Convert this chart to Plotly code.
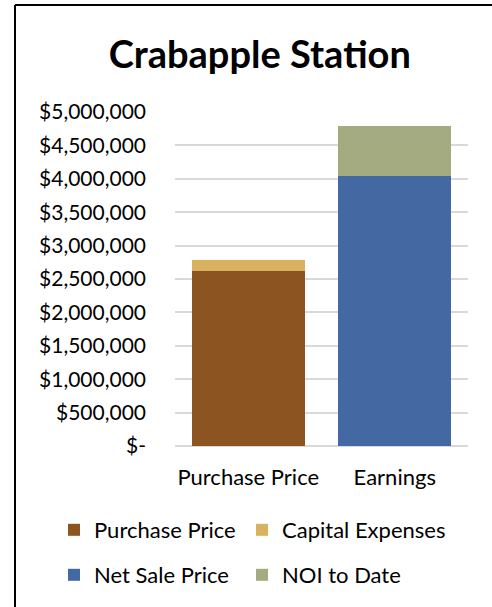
import plotly.graph_objects as go

categories = ["Purchase Price", "Earnings"]
series_names = ["Purchase Price", "Capital Expenses", "Net Sale Price", "NOI to Date"]
series_category = ["Purchase Price", "Purchase Price", "Earnings", "Earnings"]
series_values = [2620000, 164000, 4042000, 748000]
series_colors = ["#8B5420", "#D9B25F", "#4468A2", "#A4AB80"]

tick_values = [0, 500000, 1000000, 1500000, 2000000, 2500000, 3000000, 3500000, 4000000, 4500000, 5000000]
tick_labels = ["$-", "$500,000", "$1,000,000", "$1,500,000", "$2,000,000", "$2,500,000",
               "$3,000,000", "$3,500,000", "$4,000,000", "$4,500,000", "$5,000,000"]

FONT = "Lato"
W, H = 492, 607
ml, mr, mt, mb = 175, 24, 112, 161

pw = W - ml - mr
ph = H - mt - mb

def px_x(x):
    return (x - ml) / pw

def px_y(y):
    return (H - mb - y) / ph

# legend grid: 2 columns x 2 rows (pixel positions of each legend box)
legend_ids = ["legend", "legend2", "legend3", "legend4"]
legend_px = [(54, 509), (242, 509), (54, 554), (242, 554)]

fig = go.Figure()
for name, cat, val, col, lg in zip(series_names, series_category, series_values, series_colors, legend_ids):
    fig.add_trace(go.Bar(name=name, x=[cat], y=[val], marker=dict(color=col, line=dict(width=0)),
                         legend=lg, showlegend=True))

legend_layouts = {}
for lg, (lx, ly) in zip(legend_ids, legend_px):
    legend_layouts[lg] = dict(orientation="v", xref="paper", yref="paper", xanchor="left", yanchor="top",
                              x=px_x(lx), y=px_y(ly), bgcolor="rgba(0,0,0,0)",
                              font=dict(family=FONT, size=22, color="black"),
                              itemclick=False, itemdoubleclick=False)

fig.update_layout(
    width=W, height=H,
    showlegend=True,
    margin=dict(l=ml, r=mr, t=mt, b=mb, autoexpand=False),
    paper_bgcolor="white", plot_bgcolor="white",
    barmode="stack", bargap=0.23,
    font=dict(family=FONT, size=21, color="black"),
    title=dict(text="<b>Crabapple Station</b>", font=dict(family=FONT, size=38, color="black"),
               x=0.528, xanchor="center", y=1 - 55 / H, yanchor="middle", xref="container", yref="container"),
    xaxis=dict(categoryorder="array", categoryarray=categories, showgrid=False, zeroline=False,
               showline=False, ticks="", ticklabelstandoff=16, fixedrange=True,
               tickfont=dict(family=FONT, size=22, color="black")),
    yaxis=dict(range=[0, 5000000], tickvals=tick_values, ticktext=tick_labels, showgrid=True,
               gridcolor="#D9D9D9", gridwidth=1.5, zeroline=True, zerolinecolor="#D9D9D9", zerolinewidth=2,
               showline=False, ticks="", ticklabelstandoff=28, fixedrange=True),
    shapes=[
        dict(type="line", xref="paper", yref="paper", x0=px_x(15), x1=px_x(15),
             y0=px_y(H + 20), y1=px_y(5), line=dict(color="black", width=2), layer="above"),
        dict(type="line", xref="paper", yref="paper", x0=px_x(15), x1=px_x(W + 20),
             y0=px_y(5), y1=px_y(5), line=dict(color="black", width=2), layer="above"),
    ],
    **legend_layouts,
)

fig.write_html("out.html", config={"displayModeBar": False},
               post_script="document.body.style.margin='0';document.body.style.overflow='hidden';")
